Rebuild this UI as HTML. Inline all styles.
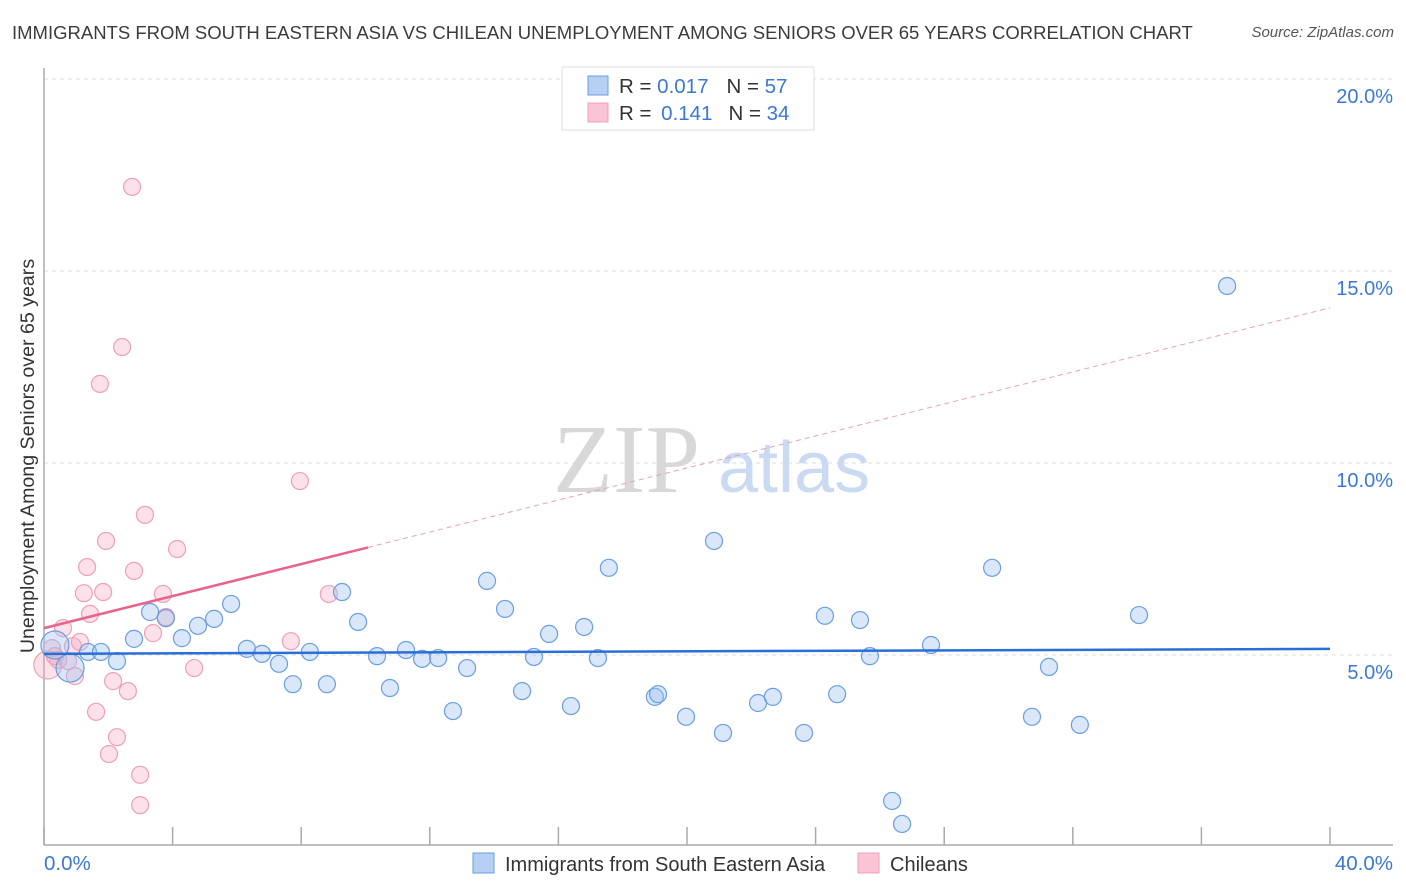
<!DOCTYPE html>
<html><head><meta charset="utf-8">
<style>
body{margin:0;background:#fff;width:1406px;height:892px;overflow:hidden;font-family:"Liberation Sans",sans-serif}
#title{position:absolute;left:12px;top:22px;font-size:18.5px;color:#3c3c3c}
#source{position:absolute;right:12px;top:24px;font-size:15px;color:#555;font-style:italic}
</style></head><body>
<div id="title">IMMIGRANTS FROM SOUTH EASTERN ASIA VS CHILEAN UNEMPLOYMENT AMONG SENIORS OVER 65 YEARS CORRELATION CHART</div>
<div id="source">Source: ZipAtlas.com</div>
<svg id="chart" width="1406" height="892" style="position:absolute;left:0;top:0"></svg>
<script>
const blueX=[0.34,0.81,1.37,1.77,2.27,2.80,3.30,3.79,4.29,4.79,5.29,5.82,6.31,6.78,7.31,7.74,8.27,8.80,9.27,9.77,10.36,10.76,11.26,11.76,12.26,12.72,13.16,13.78,14.34,14.87,15.24,15.71,16.39,16.80,17.23,17.57,19.00,19.10,19.97,20.84,21.12,22.21,22.67,23.64,24.29,24.67,25.38,25.69,26.38,26.69,27.59,29.49,30.73,31.26,32.22,34.06,36.80];
const blueY=[5.26,4.66,5.08,5.08,4.84,5.42,6.12,5.96,5.44,5.76,5.94,6.33,5.16,5.03,4.77,4.24,5.08,4.24,6.64,5.86,4.97,4.14,5.13,4.90,4.92,3.54,4.66,6.93,6.20,4.06,4.95,5.55,3.67,5.73,4.92,7.27,3.91,3.98,3.39,7.97,2.97,3.75,3.91,2.97,6.02,3.98,5.91,4.97,1.20,0.60,5.26,7.27,3.39,4.69,3.18,6.04,14.61];
const blueBig=[1,1];
const pinkX=[0.12,0.25,0.44,0.59,0.75,0.90,0.96,1.12,1.24,1.34,1.43,1.62,1.74,1.84,1.93,2.02,2.15,2.27,2.43,2.61,2.74,2.80,2.99,2.99,3.14,3.39,3.70,3.79,4.14,4.67,7.68,7.96,8.86,0.34];
const pinkY=[4.74,5.18,4.87,5.70,4.84,5.23,4.45,5.34,6.61,7.29,6.07,3.52,12.06,6.64,7.97,2.42,4.32,2.86,13.02,4.06,17.19,7.19,1.88,1.09,8.65,5.57,6.59,5.99,7.76,4.66,5.36,9.53,6.59,4.97];
const pinkBig=[1];
const blueTrend=[5.03,5.16];
const pinkTrend=[5.70,14.04];
const pinkSolidEnd=10.08;
const yTicks=[5,10,15,20];
const yTickLabels=["5.0%","10.0%","15.0%","20.0%"];
const xTicks=[0,4,8,12,16,20,24,28,32,36,40];

const svg=document.getElementById('chart');
const NS="http://www.w3.org/2000/svg";
const X=v=>44+v*32.15, Y=v=>847-v*38.4;
function el(t,a,p){const e=document.createElementNS(NS,t);for(const k in a)e.setAttribute(k,a[k]);(p||svg).appendChild(e);return e;}
yTicks.forEach((t,i)=>{
 const g=el('line',{x1:44,x2:1393,y1:Y(t),y2:Y(t),stroke:'#ddd','stroke-dasharray':'4,4'});
 
 
 const l=el('text',{x:1393,y:Y(t)+24,'text-anchor':'end','font-size':20,fill:'#3a78d4'});
 l.textContent=yTickLabels[i];
 
 
});
const ax=el('line',{x1:44,x2:44,y1:68,y2:845,stroke:'#aaa','stroke-width':1.5});


const bx=el('line',{x1:44,x2:1393,y1:845,y2:845,stroke:'#aaa','stroke-width':1.5});


xTicks.forEach(t=>{
 const k=el('line',{x1:X(t),x2:X(t),y1:827,y2:845,stroke:'#aaa','stroke-width':1.5});
 
 
});
const wm=el('text',{x:553,y:492,'font-size':98,fill:'#d8d8d8','font-family':'Liberation Serif, serif'});
wm.textContent='ZIP';


const wm2=el('text',{x:718,y:492,'font-size':72,fill:'#c9daf2'});
wm2.textContent='atlas';


function dots(xs,ys,big,fill,stroke,name){
 xs.forEach((x,i)=>{
  const c=el('circle',{cx:X(x),cy:Y(ys[i]),r:i<big.length?14:8.5,fill:fill,stroke:stroke,'stroke-width':1.2});
  
  
 });
}
dots(pinkX,pinkY,pinkBig,'rgba(246,170,195,0.35)','#eda0b8','chileans-point');
dots(blueX,blueY,blueBig,'rgba(160,195,240,0.4)','#6a9ee0','sea-immigrants-point');
const bt=el('line',{x1:X(0),x2:X(40),y1:Y(blueTrend[0]),y2:Y(blueTrend[1]),stroke:'#2a6fd6','stroke-width':2.5});


const pAt=v=>pinkTrend[0]+(pinkTrend[1]-pinkTrend[0])*v/40;
const pt=el('line',{x1:X(0),x2:X(pinkSolidEnd),y1:Y(pAt(0)),y2:Y(pAt(pinkSolidEnd)),stroke:'#e8628c','stroke-width':2.5});


const pd=el('line',{x1:X(pinkSolidEnd),x2:X(40),y1:Y(pAt(pinkSolidEnd)),y2:Y(pAt(40)),stroke:'#e8a0b8','stroke-width':1,'stroke-dasharray':'5,4'});


</script>
<svg width="1406" height="892" style="position:absolute;left:0;top:0;pointer-events:none">
 <g>
  <rect x="562" y="67" width="252" height="63" fill="#fff" stroke="#ddd"/>
  <rect x="588" y="76" width="20" height="19" fill="#b6d0f4" stroke="#6a9ee0"/>
  <rect x="588" y="103" width="20" height="19" fill="#f9c5d4" stroke="#eda0b8"/>
  <text x="619" y="93" font-size="20.5" fill="#333">R = <tspan fill="#3a78d4">0.017</tspan><tspan dx="18">N = </tspan><tspan fill="#3a78d4">57</tspan></text>
  <text x="619" y="120" font-size="20.5" fill="#333">R = <tspan dx="4" fill="#3a78d4">0.141</tspan><tspan dx="16">N = </tspan><tspan fill="#3a78d4">34</tspan></text>
 </g>
 <text x="44" y="870" font-size="20.5" fill="#3a78d4">0.0%</text>
 <text x="1393" y="870" font-size="20.5" fill="#3a78d4" text-anchor="end">40.0%</text>
 <g>
  <rect x="473" y="853" width="21" height="20" fill="#b6d0f4" stroke="#6a9ee0"/>
  <text x="505" y="871" font-size="20" fill="#333">Immigrants from South Eastern Asia</text>
  <rect x="858" y="853" width="21" height="20" fill="#f9c5d4" stroke="#eda0b8"/>
  <text x="890" y="871" font-size="20" fill="#333">Chileans</text>
 </g>
 <text transform="translate(34,456) rotate(-90)" font-size="19.6" fill="#333" text-anchor="middle">Unemployment Among Seniors over 65 years</text>
</svg>
</body></html>
